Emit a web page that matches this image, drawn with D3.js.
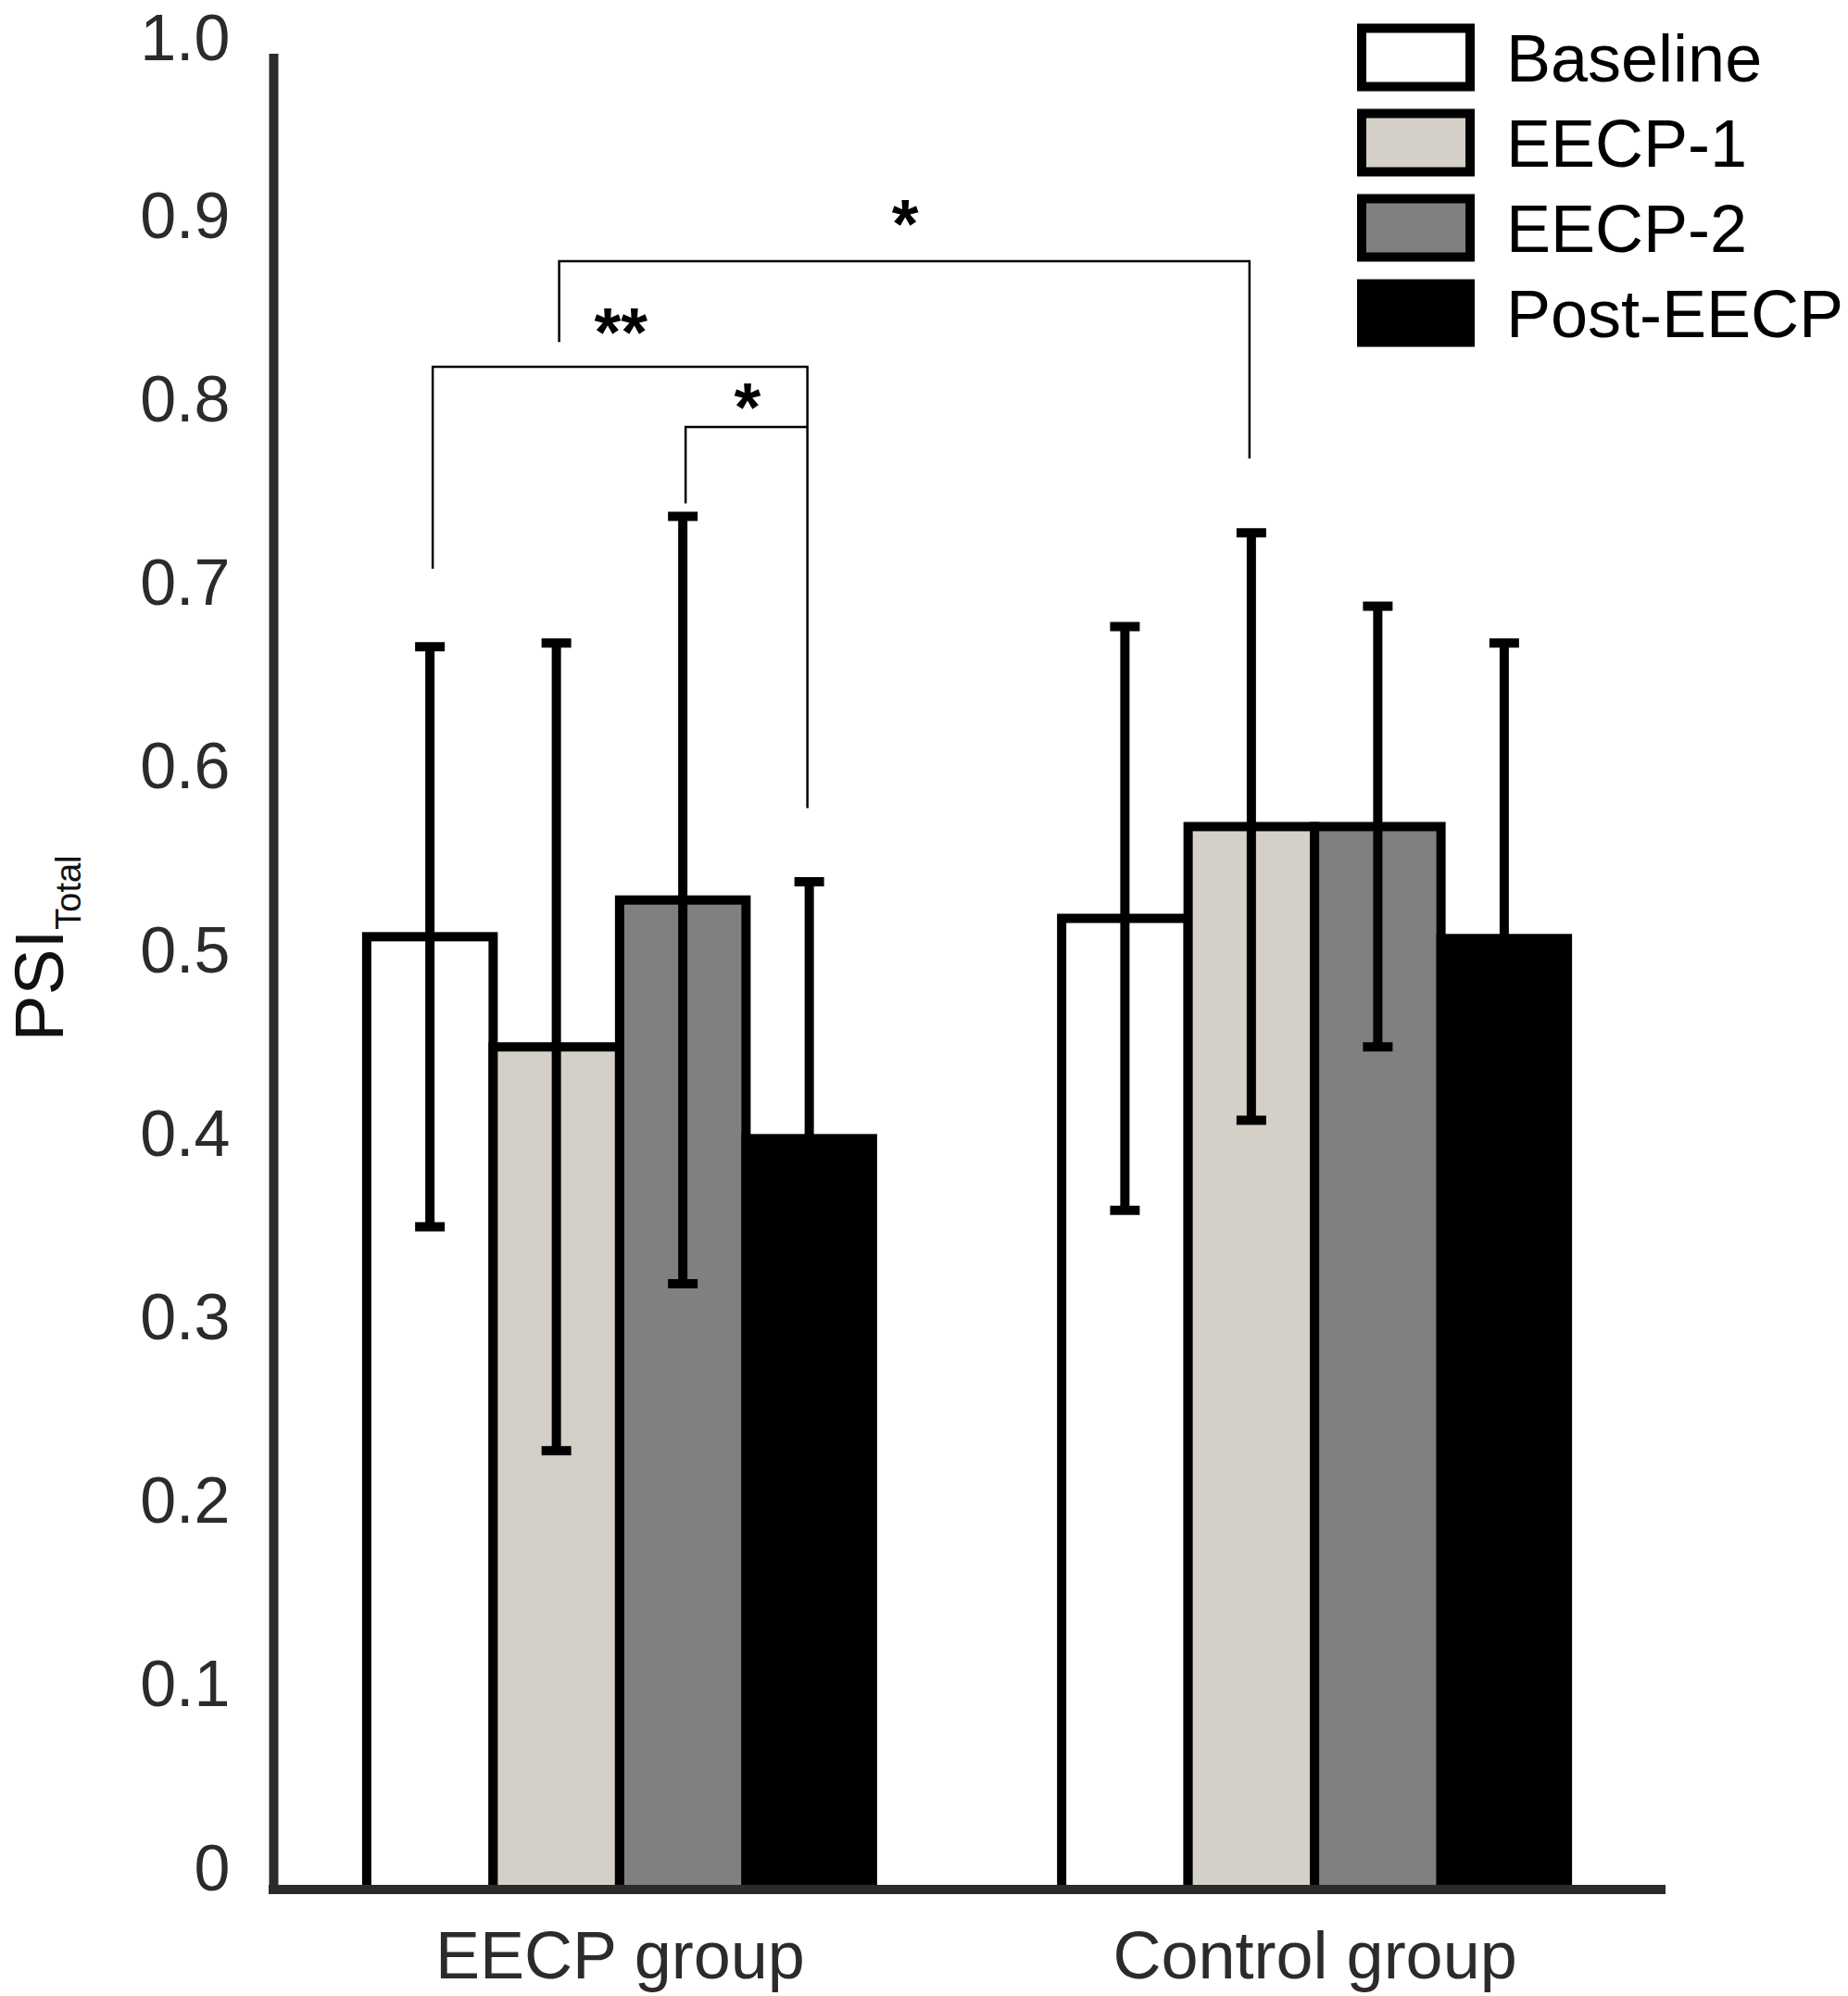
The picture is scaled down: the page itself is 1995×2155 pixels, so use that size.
<!DOCTYPE html>
<html>
<head>
<meta charset="utf-8">
<script src="https://cdn.jsdelivr.net/npm/d3@7"></script>
<style>
  html, body { margin: 0; padding: 0; background: #ffffff; }
  svg { display: block; }
  text { font-family: "Liberation Sans", Arial, sans-serif; }
</style>
</head>
<body>
<script>
// ---------------- data ----------------
const groups = ["EECP group", "Control group"];
const series = ["Baseline", "EECP-1", "EECP-2", "Post-EECP"];
const eecpMeans = [0.519, 0.459, 0.539, 0.409];
const eecpErrors = [0.158, 0.22, 0.209, 0.140];
const controlMeans = [0.529, 0.579, 0.579, 0.518];
const controlErrors = [0.159, 0.16, 0.12, 0.161];
const yTickValues = [0, 0.1, 0.2, 0.3, 0.4, 0.5, 0.6, 0.7, 0.8, 0.9, 1.0];
const yTickLabels = ["0", "0.1", "0.2", "0.3", "0.4", "0.5", "0.6", "0.7", "0.8", "0.9", "1.0"];
const seriesFills = ["#ffffff", "#d4d0c8", "#808080", "#000000"];
const yLabelMain = "PSI";
const yLabelSub = "Total";
// significance brackets (values in data units)
const brackets = [
  { from: ["EECP group", "EECP-1"], to: ["Control group", "EECP-1"], top: 0.887, fromEnd: 0.843, toEnd: 0.7795, labelAt: 0.911, label: "*" },
  { from: ["EECP group", "Baseline"], to: ["EECP group", "Post-EECP"], top: 0.8295, fromEnd: 0.7195, toEnd: 0.589, labelAt: 0.852, label: "**" },
  { from: ["EECP group", "EECP-2"], to: ["EECP group", "Post-EECP"], top: 0.7967, fromEnd: 0.755, toEnd: 0.7967, labelAt: 0.811, label: "*" }
];

// ---------------- build table ----------------
const groupValues = { "EECP group": { m: eecpMeans, e: eecpErrors }, "Control group": { m: controlMeans, e: controlErrors } };
const table = [];
groups.forEach(g => series.forEach((s, i) => {
  table.push({ group: g, series: s, idx: i, mean: groupValues[g].m[i], err: groupValues[g].e[i] });
}));

// ---------------- layout ----------------
const W = 1995, H = 2155;
const svg = d3.select("body").append("svg").attr("width", W).attr("height", H);

const axisX = 295.5;
const xLeft = 290, xRight = 1798;
const y = d3.scaleLinear().domain([0, 1]).range([2040, 58]);
const x0 = d3.scalePoint().domain(groups).range([xLeft, xRight]).padding(0.505);
const x1 = d3.scaleBand().domain(series).range([-273, 273]).padding(0);
const fill = d3.scaleOrdinal().domain(series).range(seriesFills);
const cx = (g, s) => x0(g) + x1(s) + x1.bandwidth() / 2;

// bars
svg.append("g").selectAll("rect").data(table).join("rect")
  .attr("x", d => x0(d.group) + x1(d.series))
  .attr("y", d => y(d.mean))
  .attr("width", x1.bandwidth())
  .attr("height", d => y(0) - y(d.mean))
  .attr("fill", d => fill(d.series))
  .attr("stroke", "#000")
  .attr("stroke-width", 10);

// error bars
const eb = svg.append("g").attr("stroke", "#000");
eb.selectAll("line.v").data(table).join("line").attr("class", "v")
  .attr("x1", d => cx(d.group, d.series)).attr("x2", d => cx(d.group, d.series))
  .attr("y1", d => y(d.mean - d.err)).attr("y2", d => y(d.mean + d.err))
  .attr("stroke-width", 10);
["top", "bot"].forEach(k => {
  eb.selectAll("line." + k).data(table).join("line").attr("class", k)
    .attr("x1", d => cx(d.group, d.series) - 16).attr("x2", d => cx(d.group, d.series) + 16)
    .attr("y1", d => y(k === "top" ? d.mean + d.err : d.mean - d.err))
    .attr("y2", d => y(k === "top" ? d.mean + d.err : d.mean - d.err))
    .attr("stroke-width", 10);
});

// brackets
const br = svg.append("g");
const starSize = 74;
brackets.forEach(b => {
  const xa = cx(b.from[0], b.from[1]) + 3;
  const xb = cx(b.to[0], b.to[1]) - 2;
  br.append("path")
    .attr("d", `M${xa},${y(b.fromEnd)}V${y(b.top)}H${xb}V${y(b.toEnd)}`)
    .attr("fill", "none").attr("stroke", "#000").attr("stroke-width", 2.5);
  br.append("text")
    .attr("x", (xa + xb) / 2 + 1)
    .attr("y", y(b.labelAt) + 0.44 * starSize)
    .attr("text-anchor", "middle")
    .attr("font-size", starSize).attr("font-weight", "bold")
    .attr("fill", "#000")
    .text(b.label);
});

// y axis
const tickFont = 70;
const yAxis = d3.axisLeft(y).tickValues(yTickValues)
  .tickFormat((d, i) => yTickLabels[i]).tickSize(0).tickPadding(47);
const gy = svg.append("g").attr("transform", `translate(${axisX},0)`).call(yAxis);
gy.select(".domain").remove();
gy.selectAll("text")
  .attr("dy", d => Math.max(0, tickFont * 0.92 - y(d)))   // keep the top label inside the canvas
  .attr("font-size", tickFont)
  .attr("font-family", "'Liberation Sans', Arial, sans-serif").attr("fill", "#2b2b2b");

// axis lines
svg.append("line").attr("x1", axisX).attr("x2", axisX).attr("y1", y(1)).attr("y2", y(0) + 5)
  .attr("stroke", "#2b2b2b").attr("stroke-width", 10);
svg.append("line").attr("x1", xLeft).attr("x2", xRight).attr("y1", y(0)).attr("y2", y(0))
  .attr("stroke", "#2b2b2b").attr("stroke-width", 10);

// x group labels
const xAxis = d3.axisBottom(x0).tickSize(0).tickPadding(0);
const gx = svg.append("g").attr("transform", `translate(0,${y(0)})`).call(xAxis);
gx.select(".domain").remove();
gx.selectAll("text").attr("y", 96).attr("dy", "0").attr("font-size", 72)
  .attr("font-family", "'Liberation Sans', Arial, sans-serif").attr("fill", "#2b2b2b");

// y label
const yl = svg.append("text")
  .attr("transform", `translate(68,1024) rotate(-90)`)
  .attr("text-anchor", "middle")
  .attr("font-size", 75).attr("fill", "#111");
yl.append("tspan").text(yLabelMain);
yl.append("tspan").attr("font-size", 38).attr("dy", 19).text(yLabelSub);

// legend
const lg = svg.append("g");
series.forEach((s, i) => {
  const cy = 62 + i * 92;
  lg.append("rect").attr("x", 1470).attr("y", cy - 31.5).attr("width", 117).attr("height", 63)
    .attr("fill", fill(s)).attr("stroke", "#000").attr("stroke-width", 10);
  lg.append("text").attr("x", 1626).attr("y", cy + 0.358 * 72)
    .attr("font-size", 72).attr("fill", "#000").text(s);
});
</script>
</body>
</html>
